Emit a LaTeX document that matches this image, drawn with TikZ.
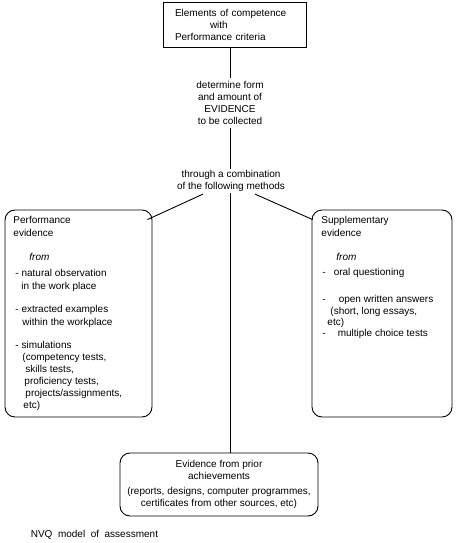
\documentclass[tikz,border=0pt]{standalone}
\usepackage{fontspec}
\setmainfont{Liberation Sans}
\usetikzlibrary{calc}
\begin{document}
\begin{tikzpicture}[x=1pt,y=-1pt,line width=0.9pt,
  every node/.style={font=\fontsize{10}{12}\selectfont},
  rbox/.style={draw,rounded corners=10pt}]
\useasboundingbox (0,0) rectangle (456,543);
% top of the chain
\node[draw,minimum height=45pt,inner xsep=12pt,text width=119pt,align=left] (elem) at (234.5,24.5)
  {Elements of competence\\\hspace*{35pt}with\\Performance criteria};
\node[align=center] (form) at (230,103) {determine form\\and amount of\\EVIDENCE\\to be collected};
\node[align=center,inner sep=1pt] (comb) at (231,181) {through a combination\\of the following methods};
% the three kinds of evidence
\node[rbox,minimum width=147pt,minimum height=207pt] (perf) at (78.5,313.5) {};
\node[rbox,minimum width=140pt,minimum height=207pt] (supp) at (382,313.5) {};
\node[rbox,minimum width=198pt,minimum height=63pt,align=center] (prior) at (219,484.5)
  {Evidence from prior\\achievements\\[3pt](reports, designs, computer programmes,\\certificates from other sources, etc)};
\node[anchor=north west,align=left,inner sep=0pt] (perftext) at (13,216)
  {Performance\\[1pt]evidence\\[12pt]
   \hspace*{16pt}\textit{from}\\[4pt]
   \hspace*{2pt}- natural observation\\[1pt]
   \hspace*{8pt}in the work place\\[11pt]
   \hspace*{2pt}- extracted examples\\[1pt]
   \hspace*{9pt}within the workplace\\[11pt]
   \hspace*{2pt}- simulations\\
   \hspace*{9pt}(competency tests,\\
   \hspace*{12pt}skills tests,\\
   \hspace*{11pt}proficiency tests,\\
   \hspace*{12pt}projects/assignments,\\
   \hspace*{10pt}etc)};
\node[anchor=north west,align=left,inner sep=0pt] (supptext) at (321,216)
  {Supplementary\\[1pt]evidence\\[12pt]
   \hspace*{15pt}\textit{from}\\[3pt]
   \hspace*{1pt}-\hspace{8pt}oral questioning\\[15pt]
   \hspace*{1pt}-\hspace{13pt}open written answers\\
   \hspace*{9pt}(short, long essays,\\[-1pt]
   \hspace*{6pt}etc)\\[-1pt]
   \hspace*{1pt}-\hspace{12pt}multiple choice tests};
\node[anchor=west] (caption) at (27,535) {NVQ\ \ model\ \ of\ \ assessment};
% connectors
\coordinate (combl) at ($(comb.south)+(-28,1)$);
\coordinate (combr) at ($(comb.south)+(24,1)$);
\coordinate (perfc) at ($(perf.north east)+(-5,10)$);
\coordinate (suppc) at ($(supp.north west)+(1,10)$);
\draw (form.north |- elem.south) -- (form.north);
\draw (form.south) -- (form.south |- comb.north);
\draw (comb.south -| form) -- (prior.north -| form);
\draw (combl) -- (perfc);
\draw (combr) -- (suppc);
\end{tikzpicture}
\end{document}
